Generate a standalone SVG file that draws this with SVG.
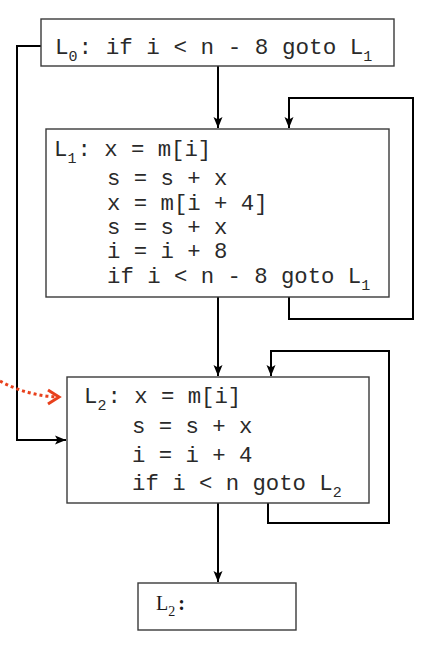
<svg xmlns="http://www.w3.org/2000/svg" width="421" height="648" viewBox="0 0 421 648">
<style>
.box{fill:#fff;stroke:#3a3a3a;stroke-width:1.4}
.code{font-family:"Liberation Mono","Courier New",monospace;font-size:22.3px;fill:#2a2a2a}
.sub{font-size:15px}
.conn{fill:none;stroke:#000;stroke-width:2}
.red{fill:none;stroke:#e8401c;stroke-width:3}
</style>
<defs>
<marker id="ah" markerUnits="userSpaceOnUse" markerWidth="12" markerHeight="12" refX="11" refY="6" orient="auto">
<path d="M0,1.5 L11,6 L0,10.5 L2.5,6 Z" fill="#000"/>
</marker>
</defs>
<g id="connectors">
<path class="conn" d="M218,66 V128" marker-end="url(#ah)"/>
<path class="conn" d="M289,297 V319 H413 V98 H289 V128" marker-end="url(#ah)"/>
<path class="conn" d="M41,46 H17 V440 H66" marker-end="url(#ah)"/>
<path class="conn" d="M218,297 V376" marker-end="url(#ah)"/>
<path class="conn" d="M268,503 V523 H389 V351 H271 V376" marker-end="url(#ah)"/>
<path class="conn" d="M218,503 V582" marker-end="url(#ah)"/>
<path class="red" d="M0,381 C18,391 38,396 57,397" stroke-dasharray="3 3"/>
<polyline class="red" points="48,390 59,397 48,404"/>
</g>
<g id="L0">
<rect class="box" x="41" y="19" width="353" height="47"/>
<text class="code" x="55" y="54" style="font-size:22.6px">L<tspan class="sub" dy="7">0</tspan><tspan dy="-7" dx="1">: if i &lt; n - 8 goto L</tspan><tspan class="sub" dy="7">1</tspan></text>
</g>
<g id="L1">
<rect class="box" x="46" y="129" width="343" height="168"/>
<text class="code" x="54" y="156">L<tspan class="sub" dy="7">1</tspan><tspan dy="-7" dx="1">: x = m[i]</tspan></text>
<text class="code" x="107" y="184.5">s = s + x</text>
<text class="code" x="107" y="209.5">x = m[i + 4]</text>
<text class="code" x="107" y="233.5">s = s + x</text>
<text class="code" x="107" y="258">i = i + 8</text>
<text class="code" x="107" y="283">if i &lt; n - 8 goto L<tspan class="sub" dy="7">1</tspan></text>
</g>
<g id="L2">
<rect class="box" x="67" y="377" width="302" height="126"/>
<text class="code" x="84" y="403">L<tspan class="sub" dy="7">2</tspan><tspan dy="-7" dx="1">: x = m[i]</tspan></text>
<text class="code" x="132" y="433">s = s + x</text>
<text class="code" x="132" y="461.5">i = i + 4</text>
<text class="code" x="132" y="490">if i &lt; n goto L<tspan class="sub" dy="7">2</tspan></text>
</g>
<g id="L3">
<rect class="box" x="138" y="583" width="158" height="47"/>
<text x="156" y="610" font-family="'Liberation Serif','Times New Roman',serif" font-size="20" fill="#1a1a1a">L<tspan font-size="14" dy="6">2</tspan><tspan dy="-6" dx="3" font-weight="bold">:</tspan></text>
</g>
</svg>
